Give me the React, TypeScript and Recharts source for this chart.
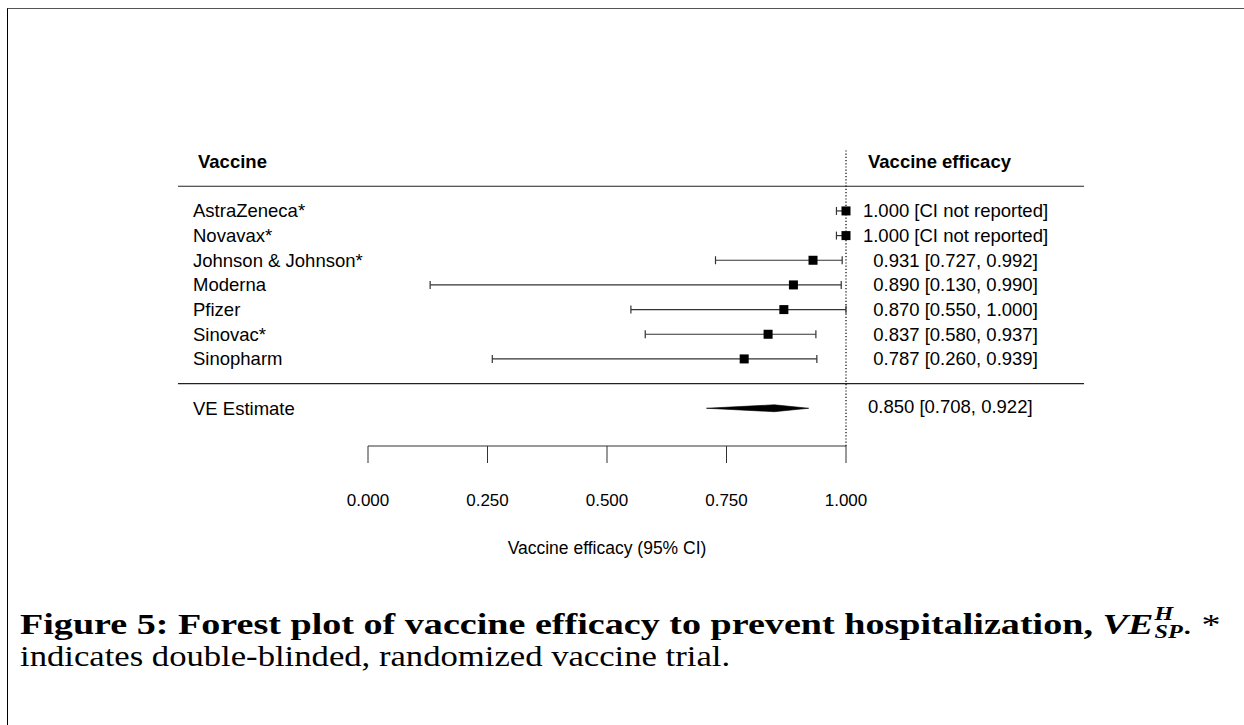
import React from "react";
import {
  ComposedChart,
  Scatter,
  Area,
  ErrorBar,
  XAxis,
  YAxis,
  ReferenceLine,
} from "recharts";

// study rows, top to bottom
const vaccines = [
  "AstraZeneca*",
  "Novavax*",
  "Johnson & Johnson*",
  "Moderna",
  "Pfizer",
  "Sinovac*",
  "Sinopharm",
];
const estimates = [1.0, 1.0, 0.931, 0.89, 0.87, 0.837, 0.787];
const lower = [0.98, 0.98, 0.727, 0.13, 0.55, 0.58, 0.26];
const upper = [1.0, 1.0, 0.992, 0.99, 1.0, 0.937, 0.939];
const ciReported = [false, false, true, true, true, true, true];

// pooled estimate
const pooled = { est: 0.85, lo: 0.708, hi: 0.922 };

const xTicks = [0, 0.25, 0.5, 0.75, 1];

// row positions (row units, top = smaller)
const HEADER_ROW = -2;
const RULE_ROWS = [-1, 7];
const POOLED_ROW = 8;
const Y_DOMAIN: [number, number] = [-2.47, 9.53];
const TABLE_X: [number, number] = [-0.3975, 1.498];
const DIAMOND_HALF = 0.14;

const fmt = (v: number) => v.toFixed(3);

const rows = vaccines.map((name, i) => ({
  name,
  x: estimates[i],
  y: i,
  errX: [estimates[i] - lower[i], upper[i] - estimates[i]],
  label: ciReported[i]
    ? `${fmt(estimates[i])} [${fmt(lower[i])}, ${fmt(upper[i])}]`
    : `${fmt(estimates[i])} [CI not reported]`,
}));

const diamond = [
  { x: pooled.lo, band: [POOLED_ROW, POOLED_ROW] },
  { x: pooled.est, band: [POOLED_ROW - DIAMOND_HALF, POOLED_ROW + DIAMOND_HALF] },
  { x: pooled.hi, band: [POOLED_ROW, POOLED_ROW] },
];

const yTicks = [HEADER_ROW, ...rows.map((r) => r.y), POOLED_ROW];

const FONT = "'Liberation Sans', Arial, sans-serif";

const LeftTick = (props: any) => {
  const { x, y, payload } = props;
  const v = payload.value;
  if (v === HEADER_ROW) {
    return (
      <text x={x - 170} y={y} dy="0.35em" fontSize={18.5} fontWeight="bold" fill="#000">
        Vaccine
      </text>
    );
  }
  const text = v === POOLED_ROW ? "VE Estimate" : vaccines[v];
  return (
    <text x={x - 175} y={y} dy="0.35em" fontSize={18.5} fill="#000">
      {text}
    </text>
  );
};

const RightTick = (props: any) => {
  const { x, y, payload } = props;
  const v = payload.value;
  if (v === HEADER_ROW) {
    return (
      <text x={x + 22} y={y} dy="0.35em" fontSize={18.5} fontWeight="bold" fill="#000">
        Vaccine efficacy
      </text>
    );
  }
  if (v === POOLED_ROW) {
    return (
      <text x={x + 22} y={y - 2} dy="0.35em" fontSize={18.5} fill="#000">
        {`${fmt(pooled.est)} [${fmt(pooled.lo)}, ${fmt(pooled.hi)}]`}
      </text>
    );
  }
  return (
    <text x={x + 109.5} y={y} dy="0.35em" fontSize={18.5} textAnchor="middle" fill="#000">
      {rows[v].label}
    </text>
  );
};

const Box = (props: any) => {
  const { cx, cy } = props;
  return <rect x={cx - 4.5} y={cy - 4.5} width={9} height={9} fill="#000" />;
};

const Nothing = () => <g />;

export default function App() {
  return (
    <div
      style={{
        position: "absolute",
        left: 0,
        top: 0,
        width: 1244,
        height: 725,
        background: "#fff",
        overflow: "hidden",
      }}
    >
      <div
        style={{
          position: "absolute",
          left: 7,
          top: 8,
          right: 0,
          bottom: 0,
          borderTop: "1px solid #555",
          borderLeft: "1px solid #000",
        }}
      />
      <ComposedChart
        width={1244}
        height={600}
        margin={{ top: 150, right: 0, bottom: 34, left: 0 }}
        style={{ fontFamily: FONT, position: "absolute", left: 0, top: 0 }}
      >
        <XAxis
          type="number"
          dataKey="x"
          domain={[0, 1]}
          ticks={xTicks}
          tickFormatter={fmt}
          height={120}
          tickSize={17}
          tickMargin={31}
          stroke="#333"
          tick={{ fill: "#000", fontSize: 17 }}
          label={{
            value: "Vaccine efficacy (95% CI)",
            position: "insideBottom",
            offset: 12,
            fill: "#000",
            fontSize: 17.5,
          }}
        />
        <YAxis
          yAxisId="left"
          type="number"
          dataKey="y"
          domain={Y_DOMAIN}
          reversed
          ticks={yTicks}
          interval={0}
          width={368}
          axisLine={false}
          tickLine={false}
          tickSize={0}
          tickMargin={0}
          tick={<LeftTick />}
        />
        <YAxis
          yAxisId="right"
          orientation="right"
          type="number"
          dataKey="y"
          domain={Y_DOMAIN}
          reversed
          ticks={yTicks}
          interval={0}
          width={398}
          axisLine={false}
          tickLine={false}
          tickSize={0}
          tickMargin={0}
          tick={<RightTick />}
        />
        {RULE_ROWS.map((r) => (
          <ReferenceLine
            key={r}
            yAxisId="left"
            segment={[
              { x: TABLE_X[0], y: r },
              { x: TABLE_X[1], y: r },
            ]}
            ifOverflow="visible"
            stroke="#222"
            strokeWidth={1.2}
          />
        ))}
        <ReferenceLine
          yAxisId="left"
          x={1}
          stroke="#000"
          strokeDasharray="1.2 2"
          strokeWidth={1.2}
        />
        <Area
          yAxisId="left"
          data={diamond}
          dataKey="band"
          type="linear"
          fill="#000"
          fillOpacity={1}
          stroke="#000"
          strokeWidth={0.6}
          dot={false}
          activeDot={false}
          isAnimationActive={false}
        />
        {/* keeps the right-hand text column axis alive */}
        <Scatter
          yAxisId="right"
          data={rows}
          dataKey="y"
          shape={<Nothing />}
          isAnimationActive={false}
        />
        <Scatter
          yAxisId="left"
          data={rows}
          dataKey="y"
          shape={<Box />}
          isAnimationActive={false}
        >
          <ErrorBar
            dataKey="errX"
            direction="x"
            width={4}
            stroke="#333"
            strokeWidth={1.2}
            isAnimationActive={false}
          />
        </Scatter>
      </ComposedChart>
      <div
        style={{
          position: "absolute",
          left: 20,
          top: 608,
          fontFamily: "'Liberation Serif', 'Times New Roman', serif",
          fontSize: 30,
          lineHeight: "32px",
          color: "#000",
        }}
      >
        <div
          style={{
            whiteSpace: "nowrap",
            transform: "scaleX(1.27)",
            transformOrigin: "0 0",
          }}
        >
          <b>Figure 5: Forest plot of vaccine efficacy to prevent hospitalization, </b>
          <b style={{ fontStyle: "italic" }}>VE</b>
          <span
            style={{
              position: "relative",
              display: "inline-block",
              width: 23,
              height: 10,
              fontSize: 19,
              lineHeight: "19px",
              fontWeight: "bold",
              fontStyle: "italic",
            }}
          >
            <span style={{ position: "absolute", left: 1, top: -20 }}>H</span>
            <span style={{ position: "absolute", left: 1, top: -2 }}>SP</span>
          </span>
          <span>. *</span>
        </div>
        <div
          style={{
            whiteSpace: "nowrap",
            transform: "scaleX(1.155)",
            transformOrigin: "0 0",
          }}
        >
          indicates double-blinded, randomized vaccine trial.
        </div>
      </div>
    </div>
  );
}
